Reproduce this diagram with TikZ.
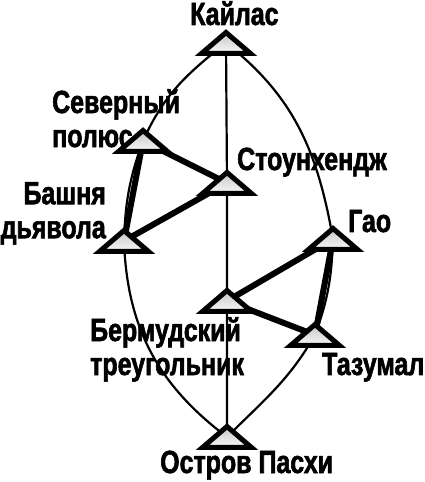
\documentclass[tikz,border=0pt]{standalone}
\usepackage{fontspec}
\newfontfamily\sitefont[FakeStretch=0.78, FakeBold=1.8]{Liberation Sans Bold}
\usetikzlibrary{calc}

\tikzset{
  site/.style={draw=black, line width=5pt, line join=miter, top color=gray!45, bottom color=gray!5},
  sitename/.style={font=\sitefont\fontsize{32}{34}\selectfont, inner sep=0pt},
  ley/.style={line width=2.2pt},
  bond/.style={line width=6pt},
}
% triangle marker on a named point
\newcommand{\site}[1]{\path[site] ($(#1)+(0,10.5)$) -- ($(#1)+(-24.5,-10.5)$) -- ($(#1)+(24.5,-10.5)$) -- cycle;}

\begin{document}
\begin{tikzpicture}[x=1pt,y=1pt]
	\useasboundingbox (0,0) rectangle (425,482);
	%sites
	\coordinate (kailas)  at (226,439);
	\coordinate (north)   at (143,341);
	\coordinate (stone)   at (227,299);
	\coordinate (tower)   at (124,241);
	\coordinate (gao)     at (333,243);
	\coordinate (bermuda) at (227,181);
	\coordinate (tazumal) at (315,147);
	\coordinate (easter)  at (227,45);
	
	%names
	\node[sitename, anchor=base west] (kailasname) at (190,457) {Кайлас};
	\node[sitename, anchor=north west, align=left] (northname) at (52,393) {Северный\\полюс};
	\node[sitename, anchor=base west] (stonename) at (237,312) {Стоунхендж};
	\node[sitename, anchor=north east, align=right] (towername) at (106,300) {Башня\\дьявола};
	\node[sitename, anchor=base west] (gaoname) at (348,250) {Гао};
	\node[sitename, anchor=north west, align=left] (bermudaname) at (90,165) {Бермудский\\треугольник};
	\node[sitename, anchor=base west] (tazumalname) at (322,107) {Тазумал};
	\node[sitename, anchor=base west] (eastername) at (160,9) {Остров Пасхи};
	
	%thin lines
	\draw[ley] (kailas) -- (stone) -- (bermuda) -- (easter);
	\draw[ley] (kailas) to[out=218,in=66] (north) to[out=250,in=88] (tower) to[out=272,in=143] (easter);
	\draw[ley] (kailas) to[out=322,in=100] (gao) to[out=268,in=70] (tazumal) to[out=240,in=45] (easter);
	
	%thick lines
	\draw[bond] (north) -- (stone) -- (tower) -- cycle;
	\draw[bond] (gao) -- (bermuda) -- (tazumal) -- cycle;
	
	\foreach \s in {kailas, north, stone, tower, gao, bermuda, tazumal, easter}
		{\site{\s}}
\end{tikzpicture}
\end{document}
